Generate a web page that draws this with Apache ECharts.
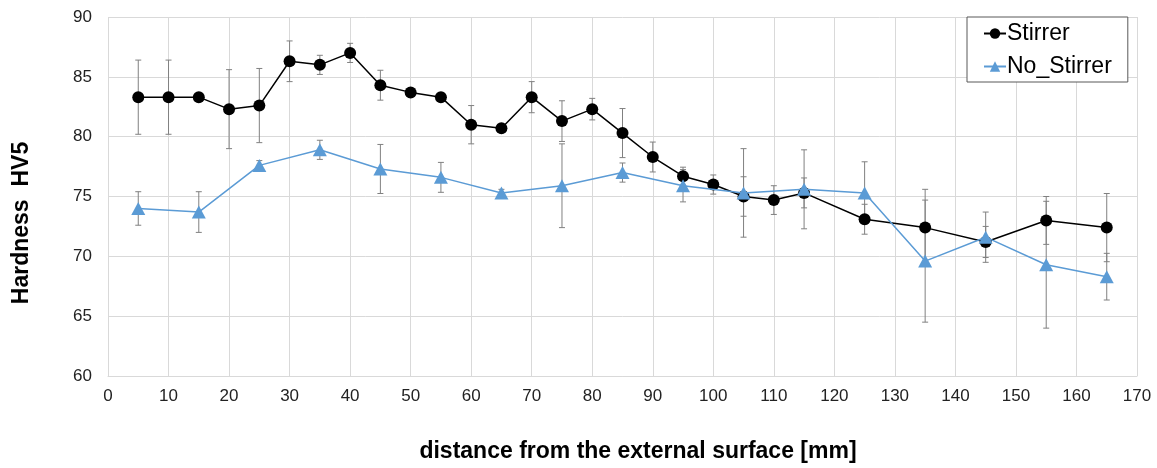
<!DOCTYPE html>
<html>
<head>
<meta charset="utf-8">
<script src="https://cdn.jsdelivr.net/npm/echarts@6/dist/echarts.min.js"></script>
<style>
html,body{margin:0;padding:0;background:#fff;}
#chart{width:1157px;height:468px;}
</style>
</head>
<body>
<div id="chart"></div>
<script>
// Data
const stirrerX = [5,10,15,20,25,30,35,40,45,50,55,60,65,70,75,80,85,90,95,100,105,110,115,125,135,145,155,165];
const stirrerY = [83.3,83.3,83.3,82.3,82.6,86.3,86.0,87.0,84.3,83.7,83.3,81.0,80.7,83.3,81.3,82.3,80.3,78.3,76.7,76.0,75.0,74.7,75.3,73.1,72.4,71.2,73.0,72.4];
const stirrerErr = [3.1,3.1,0,3.3,3.1,1.7,0.8,0.8,1.25,0,0,1.6,0,1.3,1.7,0.9,2.05,1.25,0.75,0.8,1.65,1.2,1.25,1.25,3.2,1.3,2.0,2.85];
const noStirrerX = [5,15,25,35,45,55,65,75,85,95,105,115,125,135,145,155,165];
const noStirrerY = [74.0,73.7,77.6,78.9,77.3,76.6,75.3,75.9,77.0,75.9,75.3,75.6,75.3,69.6,71.6,69.3,68.3];
const noStirrerErr = [1.4,1.7,0.4,0.8,2.05,1.25,0.3,3.5,0.8,1.35,3.7,3.3,2.6,5.1,2.1,5.3,1.95];
const xTitle = 'distance from the external surface [mm]';
const yTitle = 'Hardness  HV5';

const FONT = '"Liberation Sans", Arial, sans-serif';

function pairs(xs, ys){ return xs.map((x,i)=>[x, ys[i]]); }
function errData(xs, ys, es){
  return xs.map((x,i)=>[x, ys[i]-es[i], ys[i]+es[i]]).filter((d,i)=>es[i]>0);
}
function errRender(params, api){
  const lo = api.coord([api.value(0), api.value(1)]);
  const hi = api.coord([api.value(0), api.value(2)]);
  const cw = 3;
  const st = {stroke:'#808080', lineWidth:1};
  return {type:'group', children:[
    {type:'line', shape:{x1:lo[0], y1:lo[1], x2:hi[0], y2:hi[1]}, style:st},
    {type:'line', shape:{x1:lo[0]-cw, y1:lo[1], x2:lo[0]+cw, y2:lo[1]}, style:st},
    {type:'line', shape:{x1:hi[0]-cw, y1:hi[1], x2:hi[0]+cw, y2:hi[1]}, style:st}
  ]};
}

const chart = echarts.init(document.getElementById('chart'), null, {renderer:'canvas'});
chart.setOption({
  animation:false,
  backgroundColor:'#fff',
  grid:{left:108, right:20, top:17, bottom:92, containLabel:false},
  xAxis:{
    type:'value', min:0, max:170, interval:10,
    axisLine:{show:true, lineStyle:{color:'#d9d9d9'}},
    axisTick:{show:false},
    axisLabel:{color:'#222', fontSize:17, fontFamily:FONT, margin:12},
    splitLine:{show:true, lineStyle:{color:'#d9d9d9', width:1}}
  },
  yAxis:{
    type:'value', min:60, max:90, interval:5,
    axisLine:{show:false},
    axisTick:{show:false},
    axisLabel:{color:'#222', fontSize:17, fontFamily:FONT, margin:16},
    splitLine:{show:true, lineStyle:{color:'#d9d9d9', width:1}}
  },
  legend:{
    left:967, top:17, orient:'vertical',
    borderColor:'#595959', borderWidth:1, backgroundColor:'#fff',
    padding:[5,16,4,16], itemGap:10, itemWidth:22, itemHeight:13,
    textStyle:{fontSize:23, fontFamily:FONT, color:'#000', padding:[0,0,0,-4]},
    data:['Stirrer','No_Stirrer']
  },
  graphic:[
    {type:'text', x:638, y:452, style:{text:xTitle, font:'bold 23px '+FONT, fill:'#000', textAlign:'center', textVerticalAlign:'middle'}},
    {type:'text', x:22, y:223, rotation:Math.PI/2, style:{text:yTitle, font:'bold 23px '+FONT, fill:'#000', textAlign:'center', textVerticalAlign:'middle'}}
  ],
  series:[
    {type:'custom', name:'errS', renderItem:errRender, data:errData(stirrerX, stirrerY, stirrerErr), z:1, silent:true, encode:{x:0, y:[1,2]}},
    {type:'custom', name:'errN', renderItem:errRender, data:errData(noStirrerX, noStirrerY, noStirrerErr), z:1, silent:true, encode:{x:0, y:[1,2]}},
    {type:'line', name:'Stirrer', data:pairs(stirrerX, stirrerY), z:3,
      symbol:'circle', symbolSize:12, color:'#000',
      lineStyle:{color:'#000', width:1.5}, itemStyle:{color:'#000'}},
    {type:'line', name:'No_Stirrer', data:pairs(noStirrerX, noStirrerY), z:4,
      symbol:'triangle', symbolSize:[14,13], color:'#5b9bd5',
      lineStyle:{color:'#5b9bd5', width:1.5}, itemStyle:{color:'#5b9bd5'}}
  ]
});
</script>
</body>
</html>
